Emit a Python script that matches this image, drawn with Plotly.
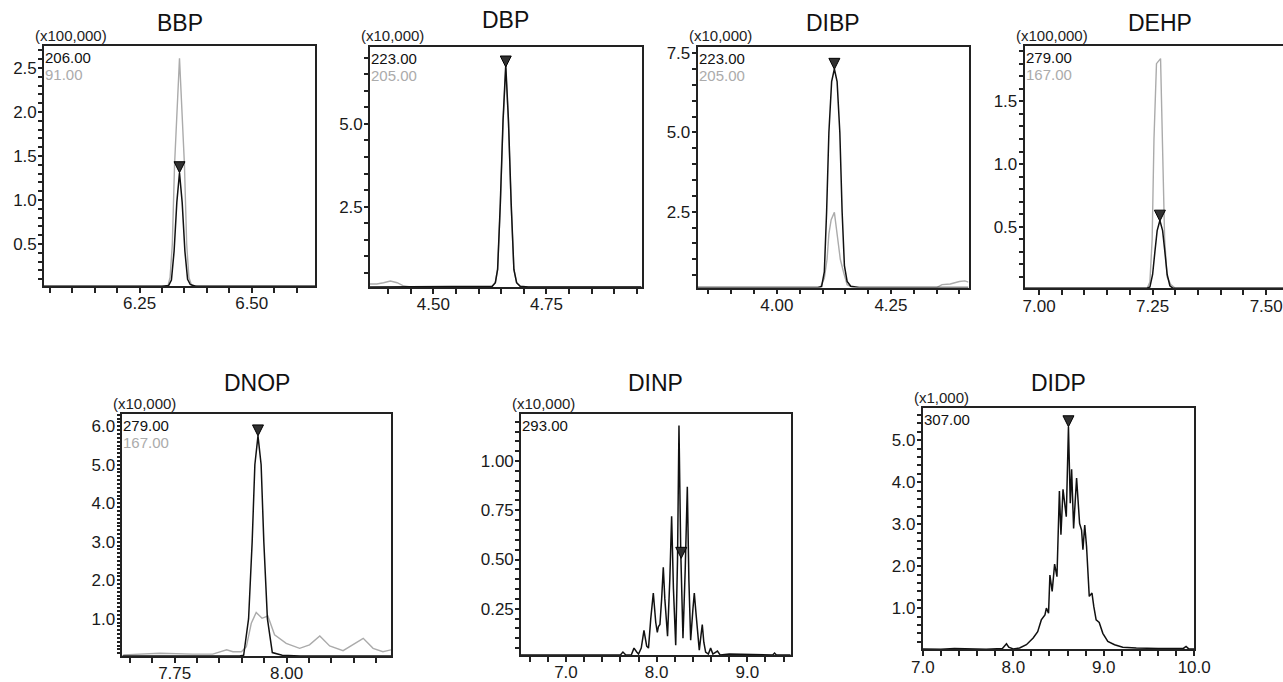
import plotly.graph_objects as go

W, H = 1283, 682

# ---------------- data (retention time [min], intensity in panel units) ----------------
# BBP (x100,000)
bbp_rt_206 = [6.037, 6.300, 6.315, 6.321, 6.327, 6.333, 6.339, 6.345, 6.351, 6.357, 6.363, 6.375, 6.641]
bbp_int_206 = [0.02, 0.02, 0.03, 0.09, 0.42, 0.97, 1.31, 0.97, 0.42, 0.10, 0.04, 0.02, 0.02]
bbp_rt_91 = [6.037, 6.313, 6.318, 6.323, 6.328, 6.339, 6.350, 6.355, 6.360, 6.366, 6.380, 6.641]
bbp_int_91 = [0.02, 0.02, 0.12, 0.50, 1.40, 2.61, 1.40, 0.50, 0.12, 0.03, 0.02, 0.02]
bbp_peak = (6.339, 1.31)

# DBP (x10,000)
dbp_rt_223 = [4.360, 4.620, 4.630, 4.637, 4.642, 4.648, 4.654, 4.660, 4.666, 4.672, 4.678, 4.684, 4.692, 4.710, 4.960]
dbp_int_223 = [0.07, 0.07, 0.09, 0.20, 0.60, 2.60, 5.10, 6.78, 5.10, 2.60, 0.60, 0.20, 0.09, 0.07, 0.07]
dbp_rt_205 = [4.360, 4.375, 4.390, 4.405, 4.420, 4.435, 4.450, 4.620, 4.630, 4.637, 4.642, 4.648,
              4.654, 4.660, 4.666, 4.672, 4.678, 4.684, 4.692, 4.710, 4.960]
dbp_int_205 = [0.16, 0.16, 0.20, 0.25, 0.20, 0.10, 0.07, 0.07, 0.09, 0.20, 0.60, 2.50,
               5.00, 6.70, 5.00, 2.50, 0.60, 0.20, 0.09, 0.07, 0.07]
dbp_peak = (4.660, 6.72)

# DIBP (x10,000)
dibp_rt_223 = [3.826, 4.090, 4.098, 4.104, 4.109, 4.114, 4.120, 4.126, 4.132, 4.138, 4.143, 4.148, 4.154, 4.162, 4.180, 4.420]
dibp_int_223 = [0.11, 0.11, 0.14, 0.60, 2.50, 5.00, 6.60, 7.00, 6.60, 5.00, 2.50, 0.80, 0.30, 0.15, 0.11, 0.11]
dibp_rt_205 = [3.826, 4.095, 4.104, 4.110, 4.114, 4.119, 4.126, 4.132, 4.139, 4.146, 4.154, 4.165,
               4.200, 4.350, 4.362, 4.380, 4.400, 4.412, 4.420]
dibp_int_205 = [0.11, 0.11, 0.40, 1.00, 1.80, 2.25, 2.48, 1.80, 1.00, 0.60, 0.20, 0.12,
                0.11, 0.11, 0.20, 0.22, 0.30, 0.32, 0.28]
dibp_peak = (4.126, 6.99)

# DEHP (x100,000)
dehp_rt_279 = [6.968, 7.238, 7.244, 7.250, 7.255, 7.260, 7.266, 7.272, 7.277, 7.282, 7.288, 7.295, 7.537]
dehp_int_279 = [0.01, 0.01, 0.02, 0.12, 0.30, 0.47, 0.55, 0.47, 0.30, 0.12, 0.03, 0.01, 0.01]
dehp_rt_167 = [6.968, 7.238, 7.244, 7.249, 7.253, 7.2585, 7.2675, 7.272, 7.2765, 7.282, 7.290, 7.300, 7.537]
dehp_int_167 = [0.01, 0.01, 0.06, 0.40, 1.20, 1.80, 1.84, 1.20, 0.40, 0.10, 0.04, 0.01, 0.01]
dehp_peak = (7.266, 0.545)

# DNOP (x10,000)
dnop_rt_279 = [7.633, 7.895, 7.904, 7.915, 7.923, 7.929, 7.936, 7.943, 7.949, 7.957, 7.968, 7.990, 8.030, 8.233]
dnop_int_279 = [0.03, 0.03, 0.05, 1.00, 3.00, 5.00, 5.75, 5.00, 3.00, 1.00, 0.12, 0.05, 0.03, 0.03]
dnop_rt_167 = [7.635, 7.717, 7.790, 7.835, 7.866, 7.880, 7.899, 7.910, 7.921, 7.932, 7.945, 7.958,
               7.973, 7.999, 8.029, 8.051, 8.074, 8.096, 8.126, 8.148, 8.171, 8.193, 8.215, 8.233]
dnop_int_167 = [0.06, 0.10, 0.08, 0.08, 0.19, 0.14, 0.14, 0.27, 0.88, 1.16, 1.01, 1.07,
                0.58, 0.36, 0.23, 0.32, 0.55, 0.29, 0.17, 0.32, 0.49, 0.23, 0.14, 0.19]
dnop_peak = (7.936, 5.75)

# DINP (x10,000)
dinp_rt_293 = [6.504, 7.600, 7.628, 7.660, 7.720, 7.750, 7.780, 7.800, 7.830, 7.860, 7.890, 7.910,
               7.935, 7.963, 7.990, 8.007, 8.020, 8.036, 8.055, 8.073, 8.090, 8.120, 8.145, 8.165,
               8.185, 8.210, 8.230, 8.246, 8.265, 8.290, 8.315, 8.338, 8.355, 8.375, 8.400, 8.415,
               8.435, 8.470, 8.490, 8.503, 8.520, 8.540, 8.570, 8.595, 8.620, 8.670, 8.700, 8.800,
               9.280, 9.300, 9.320, 9.478]
dinp_int_293 = [0.015, 0.015, 0.03, 0.015, 0.015, 0.05, 0.03, 0.02, 0.05, 0.14, 0.06, 0.05,
                0.20, 0.33, 0.18, 0.13, 0.16, 0.17, 0.30, 0.46, 0.30, 0.11, 0.40, 0.72,
                0.35, 0.065, 0.50, 1.18, 0.55, 0.10, 0.45, 0.87, 0.40, 0.09, 0.25, 0.33,
                0.22, 0.04, 0.12, 0.17, 0.08, 0.03, 0.02, 0.05, 0.02, 0.035, 0.015, 0.02,
                0.015, 0.025, 0.015, 0.015]
dinp_peak = (8.271, 0.506)

# DIDP (x1,000)
didp_rt_307 = [7.000, 7.200, 7.350, 7.500, 7.700, 7.880, 7.925, 7.950, 8.000, 8.070, 8.145, 8.220,
               8.270, 8.310, 8.350, 8.366, 8.390, 8.405, 8.430, 8.457, 8.483, 8.510, 8.527, 8.550,
               8.586, 8.610, 8.630, 8.645, 8.667, 8.700, 8.733, 8.755, 8.770, 8.790, 8.810, 8.840,
               8.870, 8.890, 8.916, 8.950, 8.990, 9.045, 9.120, 9.210, 9.360, 9.600, 9.880, 9.910,
               9.940, 10.000]
didp_int_307 = [0.03, 0.02, 0.04, 0.03, 0.02, 0.04, 0.15, 0.07, 0.03, 0.05, 0.13, 0.29,
                0.44, 0.72, 0.84, 1.00, 0.88, 1.79, 1.40, 2.05, 1.75, 3.79, 2.75, 3.83,
                3.18, 5.32, 3.50, 4.31, 2.90, 4.10, 3.02, 2.86, 2.39, 2.98, 2.47, 1.28,
                1.36, 1.04, 0.72, 0.66, 0.40, 0.21, 0.13, 0.07, 0.05, 0.04, 0.04, 0.09,
                0.03, 0.03]
didp_peak = (8.610, 5.32)

titles = ["BBP", "DBP", "DIBP", "DEHP", "DNOP", "DINP", "DIDP"]
scales = ["(x100,000)", "(x10,000)", "(x10,000)", "(x100,000)", "(x10,000)", "(x10,000)", "(x1,000)"]
ions_black = ["206.00", "223.00", "223.00", "279.00", "279.00", "293.00", "307.00"]
ions_grey = ["91.00", "205.00", "205.00", "167.00", "167.00", None, None]

# ---------------- layout (pixel boxes, axis ranges, tick steps) ----------------
panels = [
    dict(box=(44, 315, 46, 286), xr=(6.037, 6.641), yr=(0.023, 2.75), xd=0.25, xm=0.05, yd=0.5, ym=0.1,
         xf=".2f", yf=".1f", bx=bbp_rt_206, by=bbp_int_206, gx=bbp_rt_91, gy=bbp_int_91, pk=bbp_peak, ty=23.5),
    dict(box=(370, 641.5, 46.5, 287), xr=(4.360, 4.960), yr=(0.07, 7.34), xd=0.25, xm=0.05, yd=2.5, ym=0.5,
         xf=".2f", yf=".1f", bx=dbp_rt_223, by=dbp_int_223, gx=dbp_rt_205, gy=dbp_int_205, pk=dbp_peak, ty=20.5),
    dict(box=(697.5, 968.5, 46.5, 287.5), xr=(3.826, 4.420), yr=(0.11, 7.71), xd=0.25, xm=0.05, yd=2.5, ym=0.5,
         xf=".2f", yf=".1f", bx=dibp_rt_223, by=dibp_int_223, gx=dibp_rt_205, gy=dibp_int_205, pk=dibp_peak, ty=23.5),
    dict(box=(1024.5, 1283, 45.7, 288.3), xr=(6.968, 7.537), yr=(0.01, 1.943), xd=0.25, xm=0.05, yd=0.5, ym=0.1,
         xf=".2f", yf=".1f", bx=dehp_rt_279, by=dehp_int_279, gx=dehp_rt_167, gy=dehp_int_167, pk=dehp_peak,
         ty=23.5, tx=1160, openright=True),
    dict(box=(122.3, 391, 414, 656), xr=(7.633, 8.233), yr=(0.03, 6.32), xd=0.25, xm=0.05, yd=1.0, ym=0.1,
         xf=".2f", yf=".1f", bx=dnop_rt_279, by=dnop_int_279, gx=dnop_rt_167, gy=dnop_int_167, pk=dnop_peak, ty=383),
    dict(box=(521, 790.7, 414, 655), xr=(6.504, 9.478), yr=(0.015, 1.239), xd=1.0, xm=0.2, yd=0.25, ym=0.05,
         xf=".1f", yf=".2f", bx=dinp_rt_293, by=dinp_int_293, gx=None, gy=None, pk=dinp_peak, ty=383),
    dict(box=(922.7, 1194.3, 408.3, 649.3), xr=(6.999, 10.001), yr=(0.02, 5.76), xd=1.0, xm=0.2, yd=1.0, ym=0.2,
         xf=".1f", yf=".1f", bx=didp_rt_307, by=didp_int_307, gx=None, gy=None, pk=didp_peak, ty=383),
]

AXC = "#222222"
GREY = "#ababab"
TICKFONT = dict(family="Liberation Sans Narrow, Liberation Sans, Arial", size=17, color="#1a1a1a")
LABFONT = "Liberation Sans, Arial"

fig = go.Figure()
annotations = []

def fx(px):
    return px / W

def fy(py):
    return 1 - py / H

for i, p in enumerate(panels, start=1):
    xa, ya = f"x{i}", f"y{i}"
    if p["gx"] is not None:
        fig.add_trace(go.Scatter(x=p["gx"], y=p["gy"], xaxis=xa, yaxis=ya, mode="lines",
                                 line=dict(color=GREY, width=1.4), hoverinfo="skip", showlegend=False))
    fig.add_trace(go.Scatter(x=p["bx"], y=p["by"], xaxis=xa, yaxis=ya, mode="lines",
                             line=dict(color="#111111", width=1.5), hoverinfo="skip", showlegend=False))
    fig.add_trace(go.Scatter(x=[p["pk"][0]], y=[p["pk"][1]], xaxis=xa, yaxis=ya, mode="markers",
                             marker=dict(symbol="arrow-down", size=11, color="#303030",
                                         line=dict(color="#000000", width=1)),
                             cliponaxis=False, hoverinfo="skip", showlegend=False))

    l, r, t, b = p["box"]
    xkey = "xaxis" if i == 1 else f"xaxis{i}"
    ykey = "yaxis" if i == 1 else f"yaxis{i}"
    fig.layout[xkey] = dict(
        domain=[fx(l), fx(r)], anchor=ya, range=list(p["xr"]), dtick=p["xd"], tick0=0, tickformat=p["xf"],
        showline=True, linecolor=AXC, linewidth=1.6, mirror=True, automargin=False,
        ticks="outside", ticklen=5, tickwidth=1.6, tickcolor=AXC, tickfont=TICKFONT, ticklabelstandoff=-4,
        minor=dict(dtick=p["xm"], tick0=0, ticks="outside", ticklen=5, tickwidth=1.6, tickcolor=AXC, showgrid=False),
        showgrid=False, zeroline=False, fixedrange=True,
    )
    fig.layout[ykey] = dict(
        domain=[fy(b), fy(t)], anchor=xa, range=list(p["yr"]), dtick=p["yd"], tick0=0, tickformat=p["yf"],
        showline=True, linecolor=AXC, linewidth=1.6, mirror=not p.get("openright", False), automargin=False,
        ticks="outside", ticklen=4, tickwidth=1.6, tickcolor=AXC, tickfont=TICKFONT, ticklabelstandoff=-2,
        minor=dict(dtick=p["ym"], tick0=0, ticks="outside", ticklen=4, tickwidth=1.6, tickcolor=AXC, showgrid=False),
        showgrid=False, zeroline=False, fixedrange=True,
    )

    k = i - 1
    annotations.append(dict(text=titles[k], x=fx(p.get("tx", (l + r) / 2)), y=fy(p["ty"]), xref="paper", yref="paper",
                            xanchor="center", yanchor="middle", showarrow=False,
                            font=dict(family=LABFONT, size=23, color="#111111")))
    annotations.append(dict(text=scales[k], x=fx(l - 11), y=fy(t - 10.5), xref="paper", yref="paper",
                            xanchor="left", yanchor="middle", showarrow=False,
                            font=dict(family=LABFONT, size=15, color="#222222")))
    annotations.append(dict(text=ions_black[k], x=fx(l - 1), y=fy(t + 11.5), xref="paper", yref="paper",
                            xanchor="left", yanchor="middle", showarrow=False,
                            font=dict(family=LABFONT, size=15, color="#111111")))
    if ions_grey[k]:
        annotations.append(dict(text=ions_grey[k], x=fx(l - 1), y=fy(t + 28.5), xref="paper", yref="paper",
                                xanchor="left", yanchor="middle", showarrow=False,
                                font=dict(family=LABFONT, size=15, color=GREY)))

fig.update_layout(template="none", width=W, height=H, margin=dict(l=0, r=0, t=0, b=0, autoexpand=False),
                  paper_bgcolor="white", plot_bgcolor="white", showlegend=False,
                  annotations=annotations)

fig.write_html("out.html", config={"displayModeBar": False},
               post_script="document.documentElement.style.margin='0';document.body.style.margin='0';"
                           "document.body.style.padding='0';document.body.style.overflow='hidden';")
